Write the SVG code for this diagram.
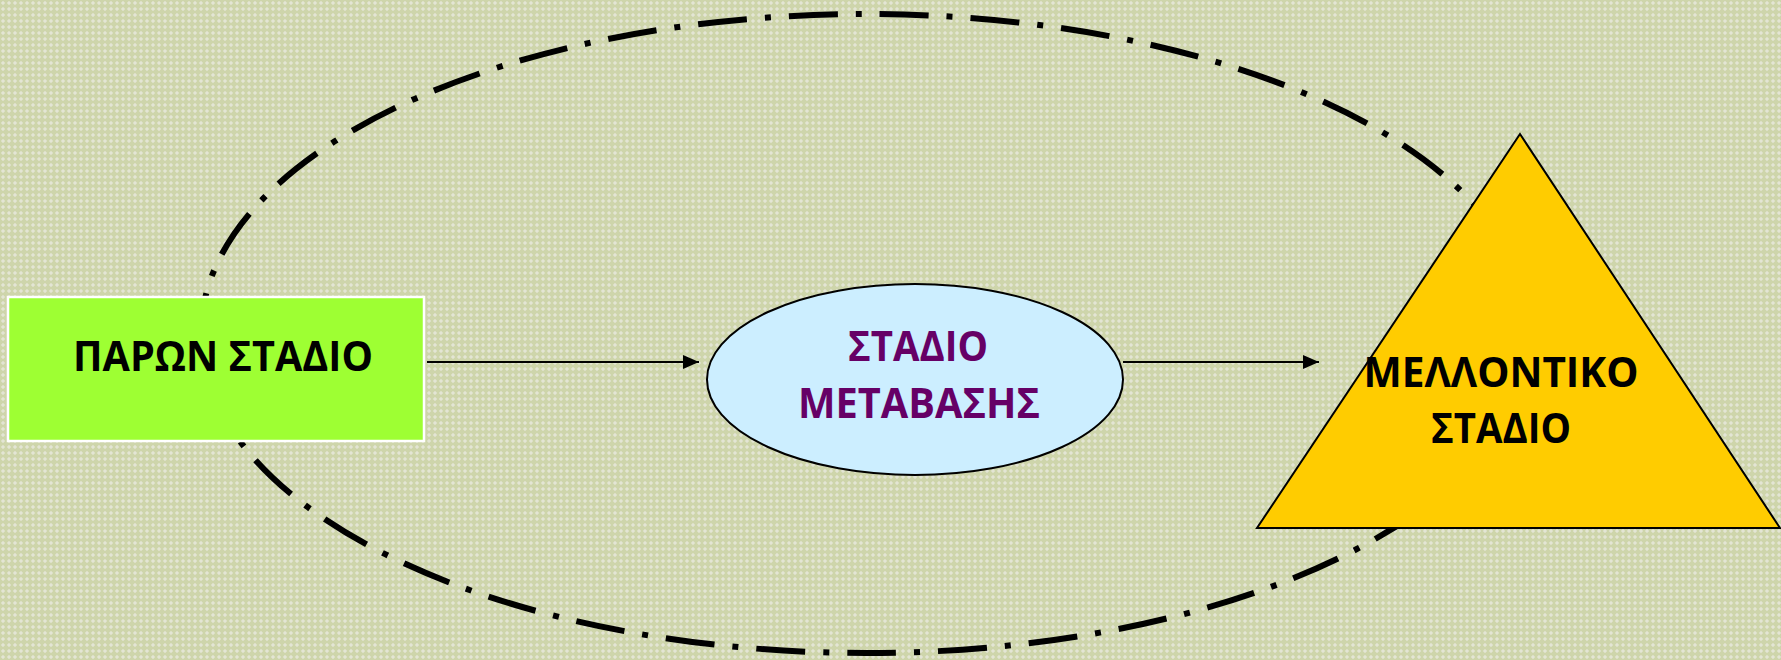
<svg xmlns="http://www.w3.org/2000/svg" width="1781" height="660" viewBox="0 0 1781 660">
  <defs>
    <!-- woven texture for the slide background -->
    <pattern id="weave" width="6" height="6" patternUnits="userSpaceOnUse">
      <rect width="6" height="6" fill="#ced5ab"/>
      <rect x="2" y="1" width="2" height="4" fill="#dcdfc6"/>
      <rect x="1" y="2" width="4" height="2" fill="#dcdfc6"/>
      <rect x="2" y="2" width="2" height="2" fill="#e3e5d4"/>
    </pattern>
    <marker id="arrow" viewBox="0 0 16 14" refX="16" refY="7" markerWidth="16" markerHeight="14" markerUnits="userSpaceOnUse" orient="auto">
      <path d="M0,0 L16,7 L0,14 Z" fill="#000"/>
    </marker>
  </defs>
  <style>
    .label { font-family: "Open Sans", "Noto Sans", "DejaVu Sans", sans-serif; font-weight: 700; font-size: 42px; text-anchor: middle; }
    .dark { fill: #000; }
    .purple { fill: #660066; }
    .link { stroke: #000; stroke-width: 2; fill: none; marker-end: url(#arrow); }
  </style>

  <rect width="1781" height="660" fill="url(#weave)"/>

  <!-- dash-dot boundary ring -->
  <g id="boundary">
    <ellipse cx="866" cy="333.5" rx="665" ry="319.5" fill="none" stroke="#000" stroke-width="6" stroke-dasharray="49 18 6 18" stroke-dashoffset="52"/>
  </g>

  <!-- connectors -->
  <g id="connectors">
    <line class="link" x1="427" y1="362" x2="699" y2="362"/>
    <line class="link" x1="1123" y1="362" x2="1319" y2="362"/>
  </g>

  <g id="node-present">
    <rect x="8" y="297" width="416" height="144" fill="#9eff33" stroke="#ffffff" stroke-width="2.5"/>
    <text class="label dark" x="223" y="371" textLength="300" lengthAdjust="spacingAndGlyphs">ΠΑΡΩΝ ΣΤΑΔΙΟ</text>
  </g>

  <g id="node-transition">
    <ellipse cx="915" cy="379.5" rx="208" ry="95.5" fill="#cceeff" stroke="#000" stroke-width="2"/>
    <text class="label purple" x="918" y="361" textLength="140" lengthAdjust="spacingAndGlyphs">ΣΤΑΔΙΟ</text>
    <text class="label purple" x="919" y="418" textLength="242" lengthAdjust="spacingAndGlyphs">ΜΕΤΑΒΑΣΗΣ</text>
  </g>

  <g id="node-future">
    <polygon points="1520,134 1780,528 1257,528" fill="#ffcc00" stroke="#000" stroke-width="2"/>
    <text class="label dark" x="1501" y="387" textLength="275" lengthAdjust="spacingAndGlyphs">ΜΕΛΛΟΝΤΙΚΟ</text>
    <text class="label dark" x="1501" y="443" textLength="140" lengthAdjust="spacingAndGlyphs">ΣΤΑΔΙΟ</text>
  </g>
</svg>
